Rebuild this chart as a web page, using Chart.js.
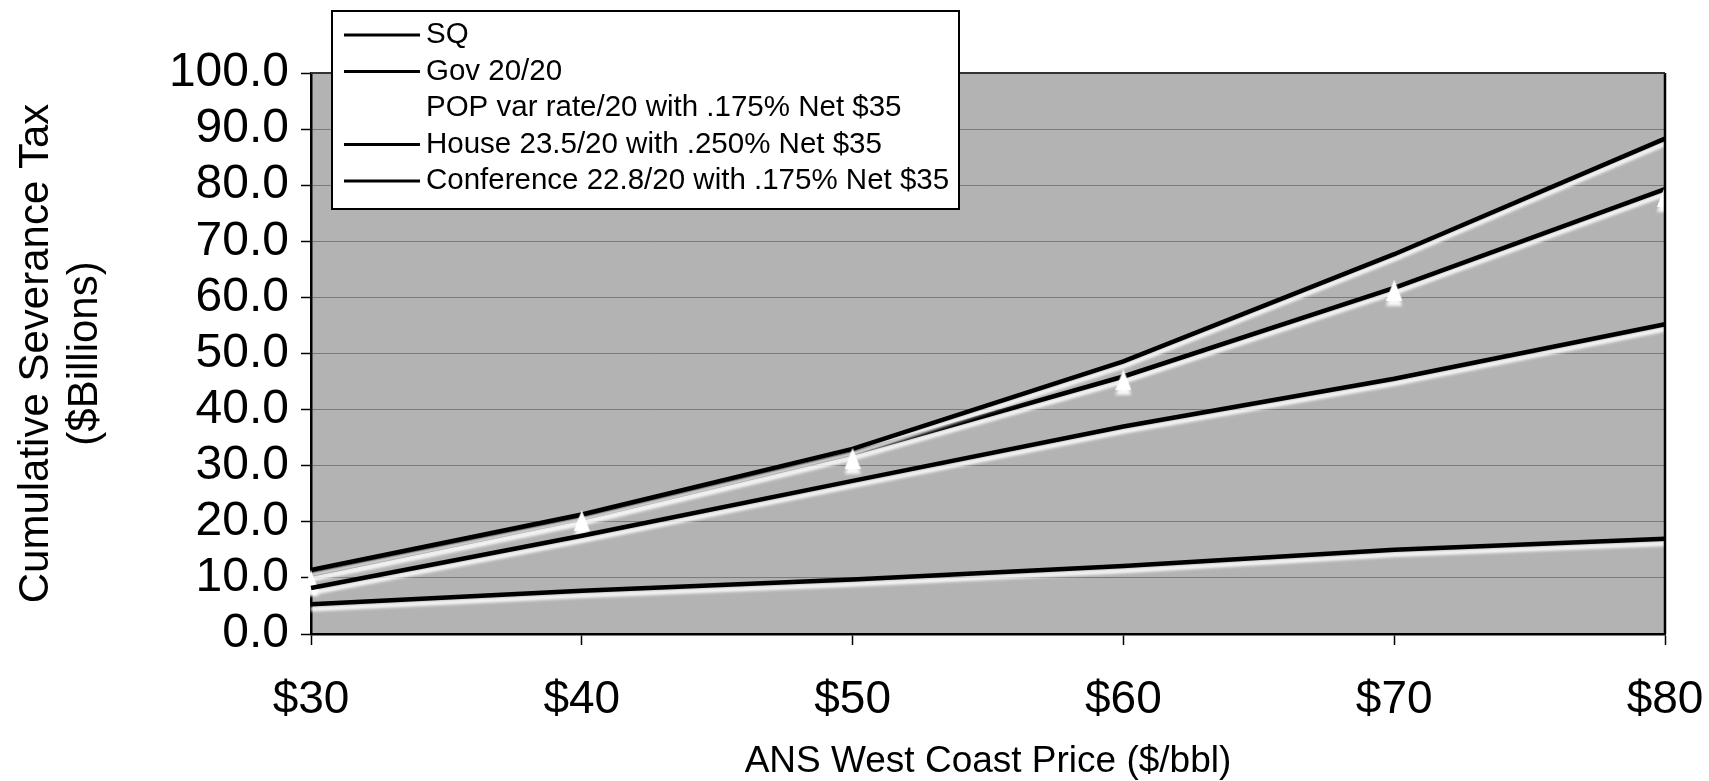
<!DOCTYPE html>
<html>
<head>
<meta charset="utf-8">
<script src="https://cdn.jsdelivr.net/npm/chart.js@4.4.1/dist/chart.umd.min.js"></script>
<style>
  html, body { margin: 0; padding: 0; background: #ffffff; }
  #wrap { width: 1709px; height: 781px; }
</style>
</head>
<body>
<div id="wrap"><canvas id="c" width="1709" height="781"></canvas></div>
<script>
// ANS West Coast price points (x axis labels)
const prices = ['$30', '$40', '$50', '$60', '$70', '$80'];

// Cumulative severance tax, $ billions, per scenario
const sq         = [5.3, 7.7, 9.7, 12.1, 15.0, 17.0];
const gov        = [8.2, 17.5, 27.3, 37.0, 45.5, 55.2];
const pop        = [9.5, 20.2, 31.3, 45.3, 61.3, 78.0];
const house      = [11.4, 21.3, 33.0, 48.6, 67.7, 88.3];
const conference = [10.6, 20.6, 32.2, 45.9, 61.7, 79.3];

const seriesNames = [
  'SQ',
  'Gov 20/20',
  'POP var rate/20 with .175% Net $35',
  'House 23.5/20 with .250% Net $35',
  'Conference 22.8/20 with .175% Net $35'
];

const yMin = 0, yMax = 100, yStep = 10;

const FONT = '"Liberation Sans", Arial, Helvetica, sans-serif';

// white triangle marker
function triangleMarker(w, h) {
  const c = document.createElement('canvas');
  c.width = w; c.height = h;
  const g = c.getContext('2d');
  g.fillStyle = '#ffffff';
  g.beginPath();
  g.moveTo(w / 2, 0);
  g.lineTo(w, h);
  g.lineTo(0, h);
  g.closePath();
  g.fill();
  return c;
}

const plotBackground = {
  id: 'plotBackground',
  beforeDraw(chart) {
    const { ctx, chartArea: a } = chart;
    ctx.save();
    ctx.fillStyle = '#ffffff';
    ctx.fillRect(0, 0, chart.width, chart.height);
    ctx.fillStyle = '#b3b3b3';
    ctx.fillRect(a.left, a.top, a.right - a.left, a.bottom - a.top);
    ctx.restore();
  }
};

// light band under each line, then the right and top frame
const lineHalo = {
  id: 'lineHalo',
  beforeDatasetsDraw(chart) {
    const ctx = chart.ctx;
    ctx.save();
    ctx.shadowColor = 'rgba(255,255,255,0.9)';
    ctx.shadowOffsetY = 5;
    ctx.shadowBlur = 3;
  },
  afterDatasetsDraw(chart) {
    const { ctx, chartArea: a } = chart;
    ctx.restore();
    ctx.save();
    ctx.strokeStyle = '#000000';
    ctx.lineWidth = 2.5;
    ctx.beginPath();
    ctx.moveTo(a.right, a.top);
    ctx.lineTo(a.right, a.bottom);
    ctx.stroke();
    ctx.strokeStyle = '#333333';
    ctx.lineWidth = 2;
    ctx.beginPath();
    ctx.moveTo(a.left, a.top);
    ctx.lineTo(a.right, a.top);
    ctx.stroke();
    ctx.restore();
  }
};

// boxed legend at the upper left
const boxedLegend = {
  id: 'boxedLegend',
  afterDraw(chart) {
    const ctx = chart.ctx;
    const bx = 332, by = 11, bw = 627, bh = 198;
    ctx.save();
    ctx.fillStyle = '#ffffff';
    ctx.fillRect(bx, by, bw, bh);
    ctx.strokeStyle = '#000000';
    ctx.lineWidth = 2;
    ctx.strokeRect(bx, by, bw, bh);
    chart.data.datasets.forEach((ds, i) => {
      const y = by + 24 + i * 36.5;
      ctx.strokeStyle = ds.borderColor;
      ctx.lineWidth = 3;
      ctx.beginPath();
      ctx.moveTo(344, y);
      ctx.lineTo(420, y);
      ctx.stroke();
      ctx.fillStyle = '#000000';
      ctx.font = '29.5px ' + FONT;
      ctx.textBaseline = 'middle';
      ctx.textAlign = 'left';
      ctx.fillText(ds.label, 426, y);
    });
    ctx.restore();
  }
};

const lineStyle = { borderColor: '#000000', borderWidth: 4.5, pointRadius: 0, tension: 0, fill: false };

new Chart(document.getElementById('c'), {
  type: 'line',
  data: {
    labels: prices,
    datasets: [
      Object.assign({ label: seriesNames[0], data: sq }, lineStyle),
      Object.assign({ label: seriesNames[1], data: gov }, lineStyle),
      {
        label: seriesNames[2], data: pop,
        borderColor: '#ffffff', backgroundColor: '#ffffff',
        showLine: false, pointStyle: triangleMarker(16, 21), pointRadius: 10, clip: false
      },
      Object.assign({ label: seriesNames[3], data: house }, lineStyle),
      Object.assign({ label: seriesNames[4], data: conference }, lineStyle)
    ]
  },
  options: {
    responsive: false,
    animation: false,
    events: [],
    layout: { padding: { top: 73, right: 44, left: 0, bottom: 0 } },
    plugins: { legend: { display: false }, tooltip: { enabled: false } },
    scales: {
      x: {
        offset: false,
        grid: { drawOnChartArea: false, drawTicks: true, tickLength: 11, tickColor: '#000000', tickWidth: 1.5 },
        border: { display: true, color: '#000000', width: 2.5 },
        ticks: { color: '#000000', font: { family: FONT, size: 46 }, padding: 28, maxRotation: 0, autoSkip: false },
        title: {
          display: true, text: 'ANS West Coast Price ($/bbl)', color: '#000000',
          font: { family: FONT, size: 37, lineHeight: 1.0 }, padding: { top: 0, bottom: 1 }
        },
        afterFit(s) {
          s.height = 147;
          s.paddingLeft = 0;
          s.paddingRight = 0;
        }
      },
      y: {
        min: yMin, max: yMax,
        grid: { color: '#7a7a7a', lineWidth: 1, tickColor: '#000000', tickLength: 10, tickWidth: 1.5 },
        border: { display: true, color: '#000000', width: 2.5 },
        ticks: {
          stepSize: yStep, autoSkip: false, color: '#000000', padding: 12,
          font: { family: FONT, size: 48 },
          callback: v => Number(v).toFixed(1)
        },
        title: {
          display: true, text: ['Cumulative Severance Tax', '($Billions)'], color: '#000000',
          font: { family: FONT, size: 42, lineHeight: 1.17 }, padding: { top: 12, bottom: 0 }
        },
        afterFit(s) { s.width = 311; }
      }
    }
  },
  plugins: [plotBackground, lineHalo, boxedLegend]
});
</script>
</body>
</html>
